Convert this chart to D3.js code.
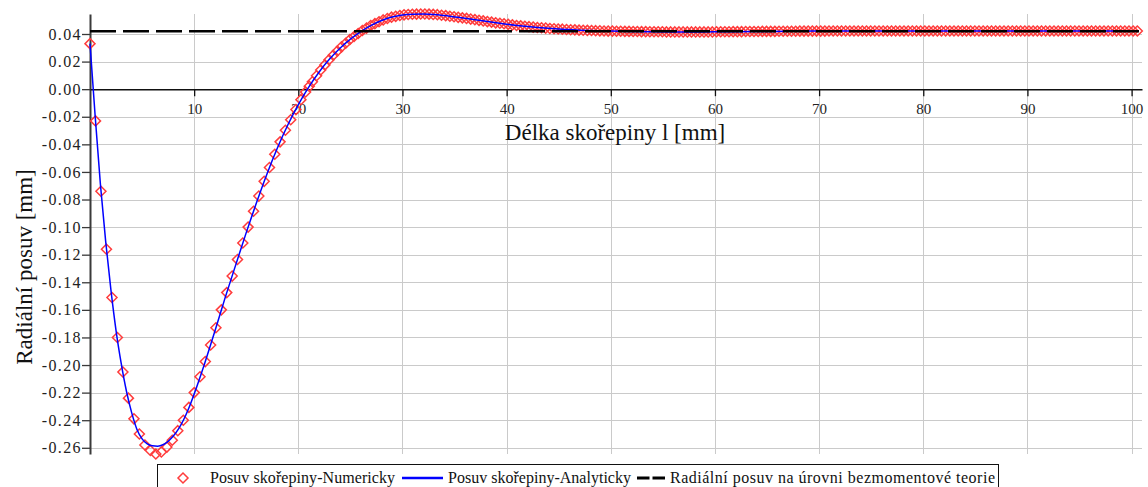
<!DOCTYPE html>
<html>
<head>
<meta charset="utf-8">
<script src="https://cdn.jsdelivr.net/npm/d3@7"></script>
<style>
	body { margin: 0; background: #fff; }
	svg { display: block; font-family: "Liberation Serif", "Times New Roman", serif; }
	.grid line { stroke: #cacaca; stroke-width: 1; }
	.axis text { fill: #222; font-family: "Liberation Serif", serif; }
	.y-axis text { font-size: 16px; letter-spacing: 1.4px; }
	.x-axis text { font-size: 15px; }
	.title { font-size: 23px; fill: #111; }
	.legend text { font-size: 16px; fill: #111; }
</style>
</head>
<body>
<svg width="1148" height="487"></svg>
<script>
// tick values of both axes
const xTicks = [10, 20, 30, 40, 50, 60, 70, 80, 90, 100];
const yTicks = [0.04, 0.02, 0.00, -0.02, -0.04, -0.06, -0.08, -0.10, -0.12, -0.14, -0.16, -0.18, -0.20, -0.22, -0.24, -0.26];

// Posuv skořepiny - Numericky (markers)
const numX = [
	0, 0.53, 1.05, 1.58, 2.11, 2.63, 3.16, 3.69, 4.22, 4.74,
	5.27, 5.80, 6.32, 6.85, 7.38, 7.90, 8.43, 8.96, 9.49, 10.01,
	10.56, 11.07, 11.58, 12.09, 12.61, 13.13, 13.65, 14.16, 14.67, 15.18,
	15.70, 16.21, 16.72, 17.23, 17.74, 18.25, 18.76, 19.27, 19.77, 20.25,
	20.70, 21.05,
	21.35, 21.75, 22.15, 22.55, 22.95, 23.35, 23.75, 24.15, 24.55, 24.95,
	25.35, 25.75, 26.15, 26.55, 26.95, 27.35, 27.75, 28.15, 28.55, 28.95,
	29.35, 29.75, 30.15, 30.55, 30.95, 31.35, 31.75, 32.15, 32.55, 32.95,
	33.35, 33.75, 34.15, 34.55, 34.95, 35.35, 35.75, 36.15, 36.55, 36.95,
	37.35, 37.75, 38.15, 38.55, 38.95, 39.35, 39.75, 40.15, 40.55, 40.95,
	41.35, 41.75, 42.15, 42.55, 42.95, 43.35, 43.75, 44.15, 44.55, 44.95,
	45.35, 45.75, 46.15, 46.55, 46.95, 47.35, 47.75, 48.15, 48.55, 48.95,
	49.35, 49.75, 50.15, 50.55, 50.95, 51.35, 51.75, 52.15, 52.55, 52.95,
	53.35, 53.75, 54.15, 54.55, 54.95, 55.35, 55.75, 56.15, 56.55, 56.95,
	57.35, 57.75, 58.15, 58.55, 58.95, 59.35, 59.75, 60.15, 60.55, 60.95,
	61.35, 61.75, 62.15, 62.55, 62.95, 63.35, 63.75, 64.15, 64.55, 64.95,
	65.35, 65.75, 66.15, 66.55, 66.95, 67.35, 67.75, 68.15, 68.55, 68.95,
	69.35, 69.75, 70.15, 70.55, 70.95, 71.35, 71.75, 72.15, 72.55, 72.95,
	73.35, 73.75, 74.15, 74.55, 74.95, 75.35, 75.75, 76.15, 76.55, 76.95,
	77.35, 77.75, 78.15, 78.55, 78.95, 79.35, 79.75, 80.15, 80.55, 80.95,
	81.35, 81.75, 82.15, 82.55, 82.95, 83.35, 83.75, 84.15, 84.55, 84.95,
	85.35, 85.75, 86.15, 86.55, 86.95, 87.35, 87.75, 88.15, 88.55, 88.95,
	89.35, 89.75, 90.15, 90.55, 90.95, 91.35, 91.75, 92.15, 92.55, 92.95,
	93.35, 93.75, 94.15, 94.55, 94.95, 95.35, 95.75, 96.15, 96.55, 96.95,
	97.35, 97.75, 98.15, 98.55, 98.95, 99.35, 99.75, 100.15, 100.55
];
const numY = [
	0.033, -0.023, -0.074, -0.116, -0.151, -0.180, -0.205, -0.224, -0.239, -0.250,
	-0.258, -0.262, -0.2645, -0.263, -0.2595, -0.2545, -0.2476, -0.240, -0.2307, -0.220,
	-0.2085, -0.1975, -0.1855, -0.1730, -0.1600, -0.1475, -0.1355, -0.1235, -0.1115, -0.1000,
	-0.0885, -0.0775, -0.0668, -0.0568, -0.0472, -0.0382, -0.0298, -0.0222, -0.0148, -0.0076,
	-0.0020, 0.0021,
	0.0054, 0.0097, 0.0139, 0.0176, 0.0213, 0.0246, 0.0277, 0.0307, 0.0333, 0.0360,
	0.0382, 0.0404, 0.0425, 0.0443, 0.0461, 0.0475, 0.0489, 0.0502, 0.0512, 0.0522,
	0.0528, 0.0534, 0.0539, 0.0541, 0.0543, 0.0544, 0.0545, 0.0545, 0.0544, 0.0542,
	0.0540, 0.0536, 0.0533, 0.0529, 0.0525, 0.0521, 0.0517, 0.0513, 0.0508, 0.0504,
	0.0499, 0.0495, 0.0490, 0.0486, 0.0481, 0.0478, 0.0474, 0.0470, 0.0466, 0.0462,
	0.0459, 0.0456, 0.0453, 0.0450, 0.0447, 0.0445, 0.0443, 0.0440, 0.0438, 0.0436,
	0.0435, 0.0433, 0.0431, 0.0430, 0.0428, 0.0427, 0.0426, 0.0425, 0.0424, 0.0423,
	0.0422, 0.0421, 0.0421, 0.0420, 0.0420, 0.0419, 0.0419, 0.0418, 0.0418, 0.0417,
	0.0417, 0.0416, 0.0416, 0.0416, 0.0416, 0.0415, 0.0415, 0.0415, 0.0415, 0.0415,
	0.0415, 0.0415, 0.0415, 0.0415, 0.0415, 0.0415, 0.0415, 0.0416, 0.0416, 0.0416,
	0.0416, 0.0417, 0.0417, 0.0417, 0.0418, 0.0418, 0.0418, 0.0418, 0.0419, 0.0419,
	0.0419, 0.0419, 0.0420, 0.0420, 0.0420, 0.0420, 0.0420, 0.0421, 0.0421, 0.0421,
	0.0421, 0.0421, 0.0421, 0.0421, 0.0422, 0.0422, 0.0422, 0.0422, 0.0422, 0.0422,
	0.0422, 0.0422, 0.0422, 0.0422, 0.0422, 0.0422, 0.0422, 0.0422, 0.0422, 0.0422,
	0.0422, 0.0422, 0.0422, 0.0422, 0.0422, 0.0422, 0.0422, 0.0422, 0.0422, 0.0422,
	0.0422, 0.0422, 0.0422, 0.0422, 0.0422, 0.0422, 0.0422, 0.0422, 0.0422, 0.0422,
	0.0422, 0.0422, 0.0422, 0.0422, 0.0422, 0.0422, 0.0422, 0.0422, 0.0422, 0.0422,
	0.0422, 0.0422, 0.0422, 0.0422, 0.0422, 0.0422, 0.0422, 0.0422, 0.0422, 0.0422,
	0.0422, 0.0422, 0.0422, 0.0422, 0.0422, 0.0422, 0.0422, 0.0422, 0.0422, 0.0422,
	0.0422, 0.0422, 0.0422, 0.0422, 0.0422, 0.0422, 0.0422, 0.0422, 0.0422
];

// Posuv skořepiny - Analyticky (line)
const anaX = [
	0, 0.5, 1, 1.5, 2, 2.5, 3, 3.5, 4, 4.5, 5, 5.5, 6, 6.5, 7, 7.5, 8, 8.5, 9, 9.5,
	10, 11, 12, 13, 14, 15, 16, 17, 18, 19, 20, 21, 22, 23, 24, 25, 26, 27, 28, 29,
	30, 31, 32, 33, 34, 35, 36, 37, 38, 39, 40, 41, 42, 43, 44, 45, 46, 47, 48, 49,
	50, 52, 54, 56, 58, 60, 62, 65, 70, 75, 80, 90, 100.6
];
const anaY = [
	0.033, -0.020, -0.069, -0.110, -0.145, -0.175, -0.199, -0.219, -0.2345, -0.2465,
	-0.2535, -0.2572, -0.2586, -0.2588, -0.2578, -0.2553, -0.2515, -0.2463, -0.2395, -0.2310,
	-0.2210, -0.1990, -0.1752, -0.1506, -0.1272, -0.1040, -0.0820, -0.0613, -0.0425, -0.0258,
	-0.0112, 0.0015, 0.0125, 0.0218, 0.0297, 0.0363, 0.0418, 0.0463, 0.0498, 0.0523,
	0.0538, 0.0544, 0.0545, 0.0542, 0.0534, 0.0524, 0.0514, 0.0503, 0.0492, 0.0481,
	0.0471, 0.0462, 0.0454, 0.0447, 0.0441, 0.0436, 0.0432, 0.0428, 0.0425, 0.0423,
	0.0421, 0.0418, 0.0416, 0.0415, 0.0415, 0.0416, 0.0417, 0.0419, 0.0421, 0.0422,
	0.0422, 0.0422, 0.0422
];

// Radiální posuv na úrovni bezmomentové teorie
const theoryLevel = 0.042;

const legendLabels = [
	'Posuv skořepiny-Numericky',
	'Posuv skořepiny-Analyticky',
	'Radiální posuv na úrovni bezmomentové teorie'
];

const svg = d3.select('svg');

const x = d3.scaleLinear().domain([0, 101]).range([90, 1142]);
const y = d3.scaleLinear().domain([-0.2645, 0.0545]).range([454, 14]);

const fmt = (d) => d3.format('.2f')(d).replace('\u2212', '-');

// grid
const grid = svg.append('g').attr('class', 'grid');
grid.selectAll('.hg')
	.data(yTicks.filter((d) => d !== 0))
	.enter()
	.append('line')
	.attr('x1', x(0))
	.attr('x2', x(101))
	.attr('y1', (d) => Math.round(y(d)) + 0.5)
	.attr('y2', (d) => Math.round(y(d)) + 0.5);
grid.selectAll('.vg')
	.data(xTicks)
	.enter()
	.append('line')
	.attr('x1', (d) => Math.round(x(d)) + 0.5)
	.attr('x2', (d) => Math.round(x(d)) + 0.5)
	.attr('y1', y.range()[1])
	.attr('y2', y.range()[0]);

// y axis
const yAxis = svg.append('g')
	.attr('class', 'axis y-axis')
	.attr('transform', `translate(${x(0)},0)`)
	.call(d3.axisLeft(y).tickValues(yTicks).tickSize(8).tickSizeOuter(0).tickPadding(0).tickFormat(fmt));
yAxis.select('.domain').attr('stroke', '#3a3a3a').attr('stroke-width', 2);
yAxis.selectAll('.tick line').attr('stroke', '#3a3a3a').attr('stroke-width', 1.3);

// x axis on the zero line
const xAxis = svg.append('g')
	.attr('class', 'axis x-axis')
	.attr('transform', `translate(0,${y(0)})`)
	.call(d3.axisBottom(x).tickValues(xTicks).tickSize(7).tickSizeOuter(0).tickPadding(7).tickFormat(d3.format('d')));
xAxis.select('.domain').attr('stroke', '#111').attr('stroke-width', 1.5);
xAxis.selectAll('.tick line').attr('stroke', '#111').attr('stroke-width', 1.3);

// axis titles
svg.append('text')
	.attr('class', 'title')
	.attr('x', 615)
	.attr('y', 140)
	.attr('text-anchor', 'middle')
	.text('Délka skořepiny l [mm]');

svg.append('text')
	.attr('class', 'title')
	.attr('transform', 'translate(32,267) rotate(-90)')
	.attr('text-anchor', 'middle')
	.text('Radiální posuv [mm]');

// numeric markers
const diamond = d3.symbol().type(d3.symbolDiamond2).size(64);
svg.append('g')
	.selectAll('path')
	.data(numX.map((d, i) => [d, numY[i]]))
	.enter()
	.append('path')
	.attr('d', diamond)
	.attr('transform', (d) => `translate(${x(d[0])},${y(d[1])})`)
	.attr('fill', 'none')
	.attr('stroke', '#ff3c3c')
	.attr('stroke-width', 1.5);

// analytic line
const line = d3.line()
	.x((d) => x(d[0]))
	.y((d) => y(d[1]))
	.curve(d3.curveMonotoneX);

svg.append('path')
	.datum(anaX.map((d, i) => [d, anaY[i]]))
	.attr('d', line)
	.attr('fill', 'none')
	.attr('stroke', '#0000ff')
	.attr('stroke-width', 1.5);

// theory level
svg.append('path')
	.datum([[0, theoryLevel], [101, theoryLevel]])
	.attr('d', d3.line().x((d) => x(d[0])).y((d) => y(d[1])))
	.attr('stroke', '#000')
	.attr('stroke-width', 2.6)
	.attr('stroke-dasharray', '26,7');

// legend
const legend = svg.append('g').attr('class', 'legend');
legend.append('rect')
	.attr('x', 157.5)
	.attr('y', 464.5)
	.attr('width', 841)
	.attr('height', 30)
	.attr('fill', '#fff')
	.attr('stroke', '#111');

legend.append('path')
	.attr('d', diamond)
	.attr('transform', 'translate(183,478)')
	.attr('fill', 'none')
	.attr('stroke', '#ff3c3c')
	.attr('stroke-width', 1.5);

legend.append('line')
	.attr('x1', 402).attr('x2', 443)
	.attr('y1', 478).attr('y2', 478)
	.attr('stroke', '#0000ff')
	.attr('stroke-width', 2.5);

legend.append('line')
	.attr('x1', 637).attr('x2', 665)
	.attr('y1', 478).attr('y2', 478)
	.attr('stroke', '#000')
	.attr('stroke-width', 3)
	.attr('stroke-dasharray', '12.5,3');

const legendPos = [[210, 185], [448, 183], [670, 325]];
legend.selectAll('text')
	.data(legendLabels)
	.enter()
	.append('text')
	.attr('x', (d, i) => legendPos[i][0])
	.attr('y', 483)
	.attr('textLength', (d, i) => legendPos[i][1])
	.text((d) => d);
</script>
</body>
</html>
